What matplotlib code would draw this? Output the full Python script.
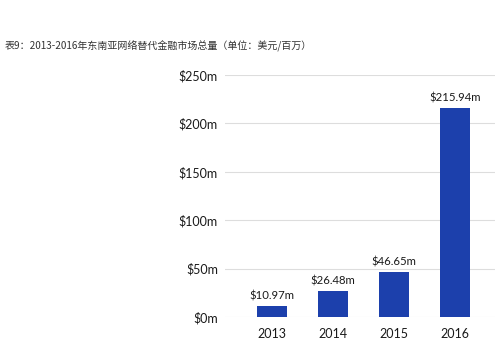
import matplotlib
matplotlib.use("Agg")
import matplotlib.pyplot as plt

plt.rcParams['font.family'] = ['Noto Sans CJK SC', 'DejaVu Sans']

years = ["2013", "2014", "2015", "2016"]
values = [10.97, 26.48, 46.65, 215.94]
value_labels = ["$10.97m", "$26.48m", "$46.65m", "$215.94m"]
yticks = [0, 50, 100, 150, 200, 250]
title = "表9：2013-2016年东南亚网络替代金融市场总量（单位：美元/百万）"

fig = plt.figure(figsize=(5, 3.64), dpi=100)
ax = fig.add_axes([0.45, 0.129, 0.54, 0.665])

x = range(len(years))
bars = ax.bar(x, values, width=0.5, color="#1c40ac", zorder=3)
for b, lab in zip(bars, value_labels):
    ax.text(b.get_x() + b.get_width() / 2, b.get_height() + 5, lab,
            ha="center", va="bottom", fontsize=8.2, family="Lato", color="#1a1a1a")

ax.set_xlim(-0.77, 3.66)
ax.set_ylim(0, 250)
ax.set_yticks(yticks)
ax.set_yticklabels(["$%dm" % t for t in yticks], family="Lato", fontsize=9)
ax.set_xticks(list(x))
ax.set_xticklabels(years, family="Lato", fontsize=9)
ax.grid(axis="y", color="#dddddd", linewidth=0.8, zorder=0)
for s in ax.spines.values():
    s.set_visible(False)
ax.tick_params(length=0, pad=5, colors="#1a1a1a")
ax.tick_params(axis="x", pad=8)

fig.text(0.01, 0.873, title, fontsize=7.2, ha="left", va="center", color="#333333")

fig.savefig("out.png", dpi=100)
